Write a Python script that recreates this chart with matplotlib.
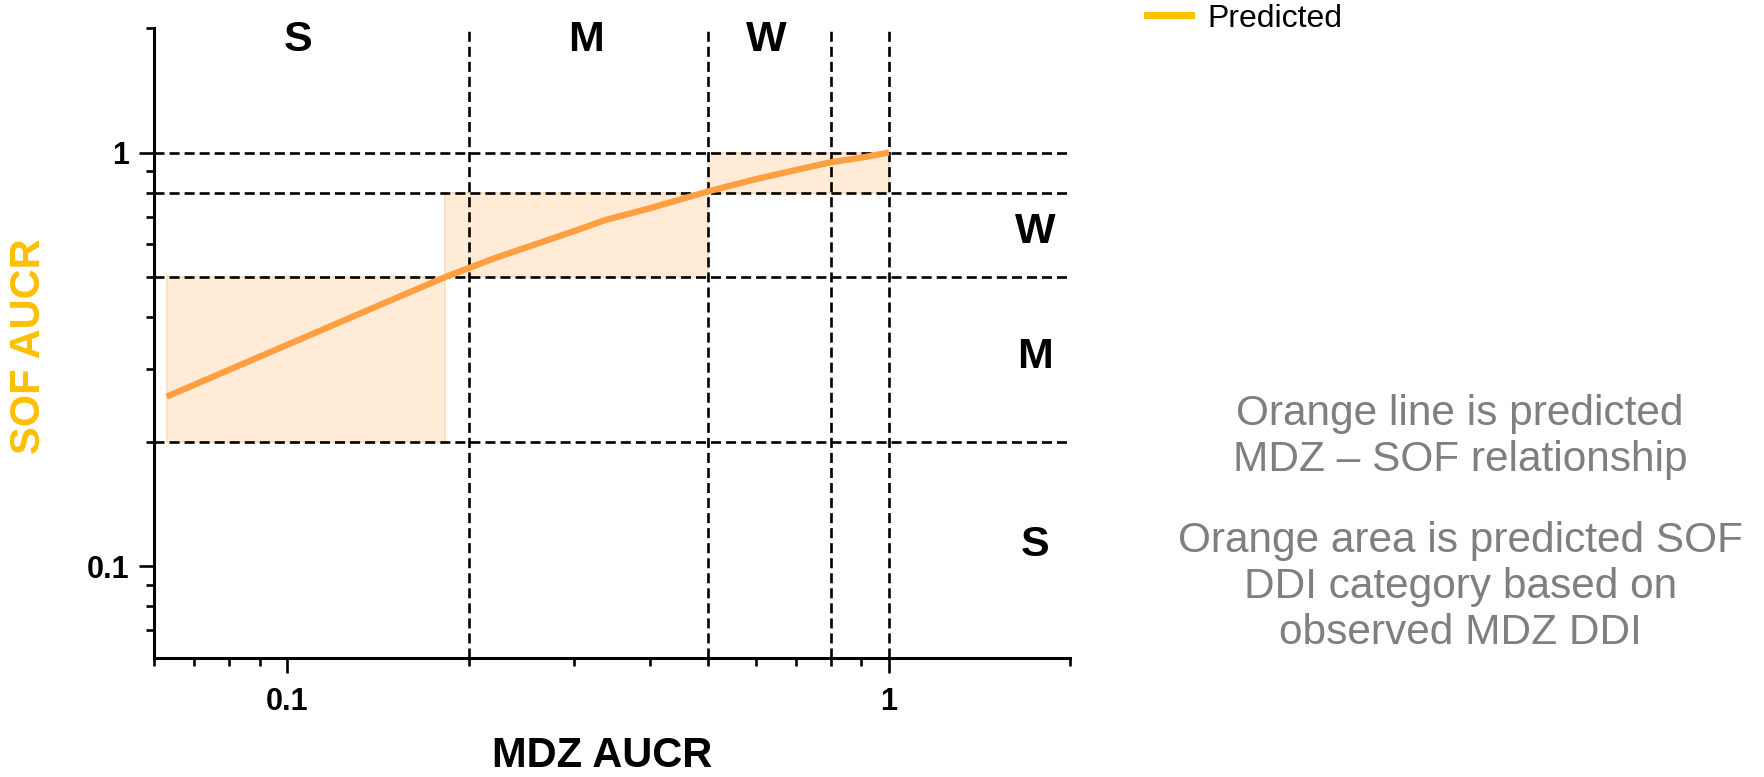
import matplotlib.pyplot as plt
from matplotlib.lines import Line2D
from matplotlib.ticker import FixedLocator, NullFormatter

plt.rcParams['font.family'] = ['Liberation Sans', 'DejaVu Sans']

# predicted MDZ - SOF relationship
mdz_aucr = [0.063, 0.1, 0.15, 0.183, 0.22, 0.3, 0.338, 0.4, 0.5, 0.6, 0.7, 0.8, 0.9, 1.0]
sof_aucr = [0.257, 0.343, 0.442, 0.5, 0.554, 0.646, 0.687, 0.733, 0.805, 0.862, 0.907, 0.947, 0.972, 1.0]

# predicted SOF category boxes
box_x0 = [0.063, 0.183, 0.5]
box_x1 = [0.183, 0.5, 1.0]
box_y0 = [0.2, 0.5, 0.8]
box_y1 = [0.5, 0.8, 1.0]

# category cut-offs
mdz_cuts = [0.2, 0.5, 0.8, 1.0]
sof_cuts = [0.2, 0.5, 0.8, 1.0]

top_labels = ['S', 'M', 'W']
top_label_x = [0.104, 0.313, 0.626]
side_labels = ['W', 'M', 'S']
side_label_y = [0.643, 0.321, 0.1124]

note1 = 'Orange line is predicted\nMDZ \u2013 SOF relationship'
note2 = 'Orange area is predicted SOF\nDDI category based on\nobserved MDZ DDI'

fig = plt.figure(figsize=(17.64, 7.77), dpi=100)
ax = fig.add_axes([0.0873, 0.1532, 0.5193, 0.8108])

for x0, x1, y0, y1 in zip(box_x0, box_x1, box_y0, box_y1):
    ax.fill_between([x0, x1], y0, y1, color='#FFEBD6', edgecolor='#FDDCBA', lw=1.2, zorder=1)

dash = (0, (3.8, 1.9))
for c in mdz_cuts:
    ax.axvline(c, color='black', ls=dash, lw=1.9, zorder=2)
for c in sof_cuts:
    ax.axhline(c, color='black', ls=dash, lw=1.9, zorder=2)

ax.plot(mdz_aucr, sof_aucr, color='#FF9F40', lw=4.5, zorder=3, solid_capstyle='butt')

ax.set_xscale('log')
ax.set_yscale('log')
ax.set_xlim(0.06, 2)
ax.set_ylim(0.06, 2)

ax.xaxis.set_major_locator(FixedLocator([0.1, 1]))
ax.yaxis.set_major_locator(FixedLocator([0.1, 1]))
ax.set_xticklabels(['0.1', '1'])
ax.set_yticklabels(['0.1', '1'])
minors = [0.06, 0.07, 0.08, 0.09, 0.2, 0.3, 0.4, 0.5, 0.6, 0.7, 0.8, 0.9, 2]
ax.xaxis.set_minor_locator(FixedLocator(minors))
ax.yaxis.set_minor_locator(FixedLocator(minors[1:]))
ax.xaxis.set_minor_formatter(NullFormatter())
ax.yaxis.set_minor_formatter(NullFormatter())
ax.tick_params(which='major', length=10.8, width=1.9, labelsize=22)
ax.tick_params(which='minor', length=5.5, width=1.9)
ax.tick_params(axis='x', which='major', pad=10)
ax.tick_params(axis='y', which='major', pad=7)
for lab in ax.get_xticklabels() + ax.get_yticklabels():
    lab.set_fontweight('bold')

for s in ['top', 'right']:
    ax.spines[s].set_visible(False)
for s in ['left', 'bottom']:
    ax.spines[s].set_linewidth(2.2)

ax.set_xlabel('MDZ AUCR', fontsize=30, fontweight='bold', va='center')
ax.xaxis.set_label_coords(0.489, -0.1556)
ax.set_ylabel('SOF AUCR', fontsize=30, fontweight='bold', color='#FFC000', va='center')
ax.yaxis.set_label_coords(-0.1365, 0.495)

for lab, x in zip(top_labels, top_label_x):
    ax.text(x, 1.87, lab, fontsize=31, fontweight='bold', ha='center', va='center')
for lab, y in zip(side_labels, side_label_y):
    ax.text(1.75, y, lab, fontsize=31, fontweight='bold', ha='center', va='center')

handle = Line2D([], [], color='#FFC000', lw=5)
fig.legend([handle], ['Predicted'], loc='center left', bbox_to_anchor=(0.6502, 0.976),
           frameon=False, fontsize=23, handlelength=1.375, handletextpad=0.53,
           borderpad=0, borderaxespad=0)

fig.text(0.8277, 0.4376, note1, fontsize=30.5, color='#7F7F7F', ha='center', va='center',
         linespacing=1.2)
fig.text(0.8277, 0.2445, note2, fontsize=30.5, color='#7F7F7F', ha='center', va='center',
         linespacing=1.2)

fig.savefig('out.png', dpi=100)
